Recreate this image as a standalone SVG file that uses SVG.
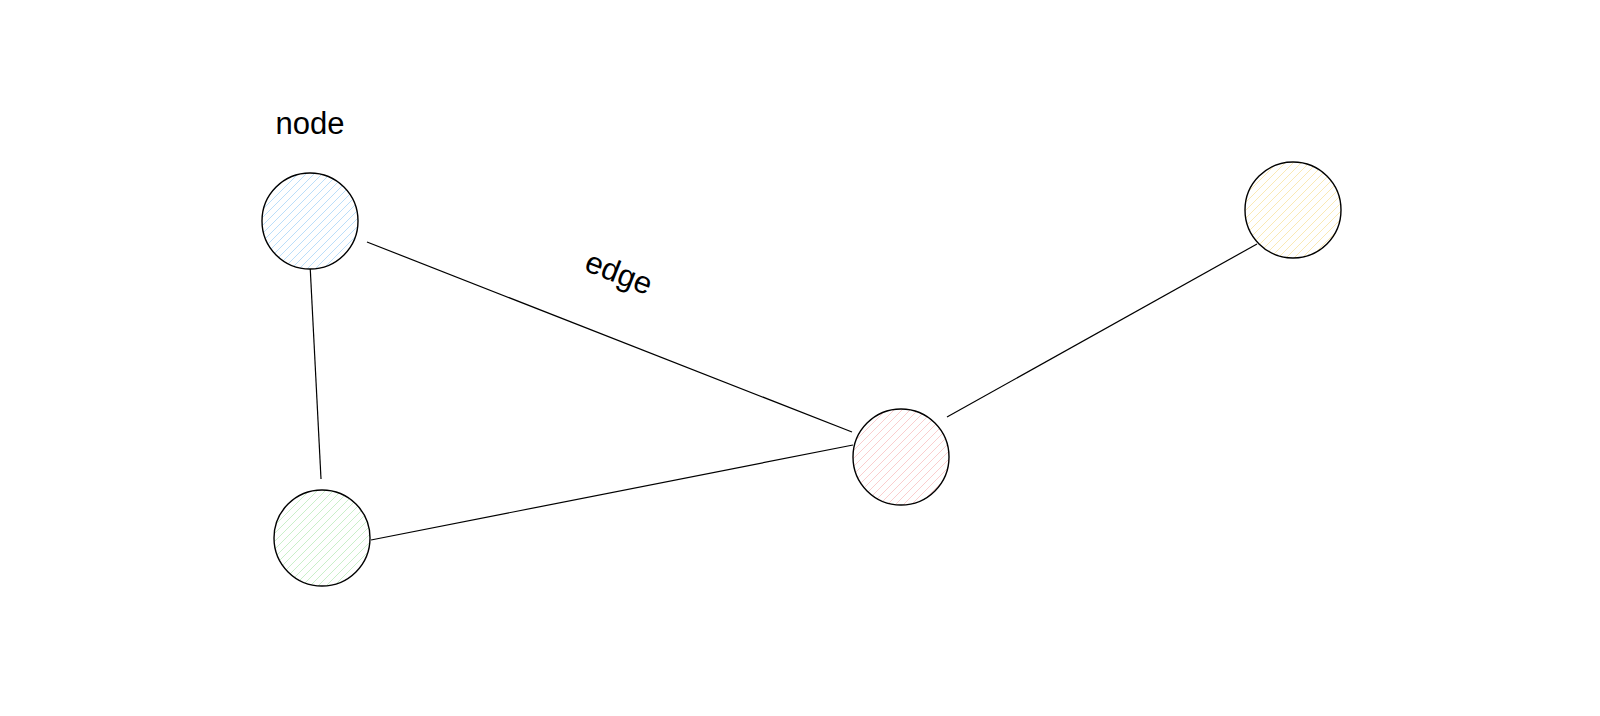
<svg xmlns="http://www.w3.org/2000/svg" width="1600" height="716" viewBox="0 0 1600 716">
<style>
.node{stroke:#000;stroke-width:1.4}
.edge{stroke:#000;stroke-width:1.2;fill:none}
.lbl{font-family:"Liberation Sans",Arial,sans-serif;font-size:31px;fill:#000}
.hatch{stroke-width:0.9;fill:none}
</style>
<defs>
<pattern id="hb" patternUnits="userSpaceOnUse" width="8" height="8"><rect width="8" height="8" fill="#fff"/><path class="hatch" d="M-1,1 l2,-2 M0,8 l8,-8 M7,9 l2,-2" stroke="#b3daf8"/></pattern>
<pattern id="hg" patternUnits="userSpaceOnUse" width="8" height="8"><rect width="8" height="8" fill="#fff"/><path class="hatch" d="M-1,1 l2,-2 M0,8 l8,-8 M7,9 l2,-2" stroke="#c4edc4"/></pattern>
<pattern id="hr" patternUnits="userSpaceOnUse" width="8" height="8"><rect width="8" height="8" fill="#fff"/><path class="hatch" d="M-1,1 l2,-2 M0,8 l8,-8 M7,9 l2,-2" stroke="#f9c8c8"/></pattern>
<pattern id="hy" patternUnits="userSpaceOnUse" width="8" height="8"><rect width="8" height="8" fill="#fff"/><path class="hatch" d="M-1,1 l2,-2 M0,8 l8,-8 M7,9 l2,-2" stroke="#f9e7ad"/></pattern>
</defs>
<rect width="1600" height="716" fill="#fff"/>
<g id="edges">
<line class="edge" x1="367" y1="242" x2="852" y2="432"/>
<line class="edge" x1="310" y1="264" x2="321" y2="479"/>
<line class="edge" x1="371" y1="540" x2="853" y2="445"/>
<line class="edge" x1="947" y1="417" x2="1257" y2="244"/>
<text class="lbl" transform="translate(617,278) rotate(21.5)" text-anchor="middle" y="5">edge</text>
</g>
<g id="node-blue">
<circle class="node" cx="310" cy="221" r="48" fill="url(#hb)"/>
<text class="lbl" x="310" y="134" text-anchor="middle">node</text>
</g>
<g id="node-green">
<circle class="node" cx="322" cy="538" r="48" fill="url(#hg)"/>
</g>
<g id="node-red">
<circle class="node" cx="901" cy="457" r="48" fill="url(#hr)"/>
</g>
<g id="node-yellow">
<circle class="node" cx="1293" cy="210" r="48" fill="url(#hy)"/>
</g>
</svg>
